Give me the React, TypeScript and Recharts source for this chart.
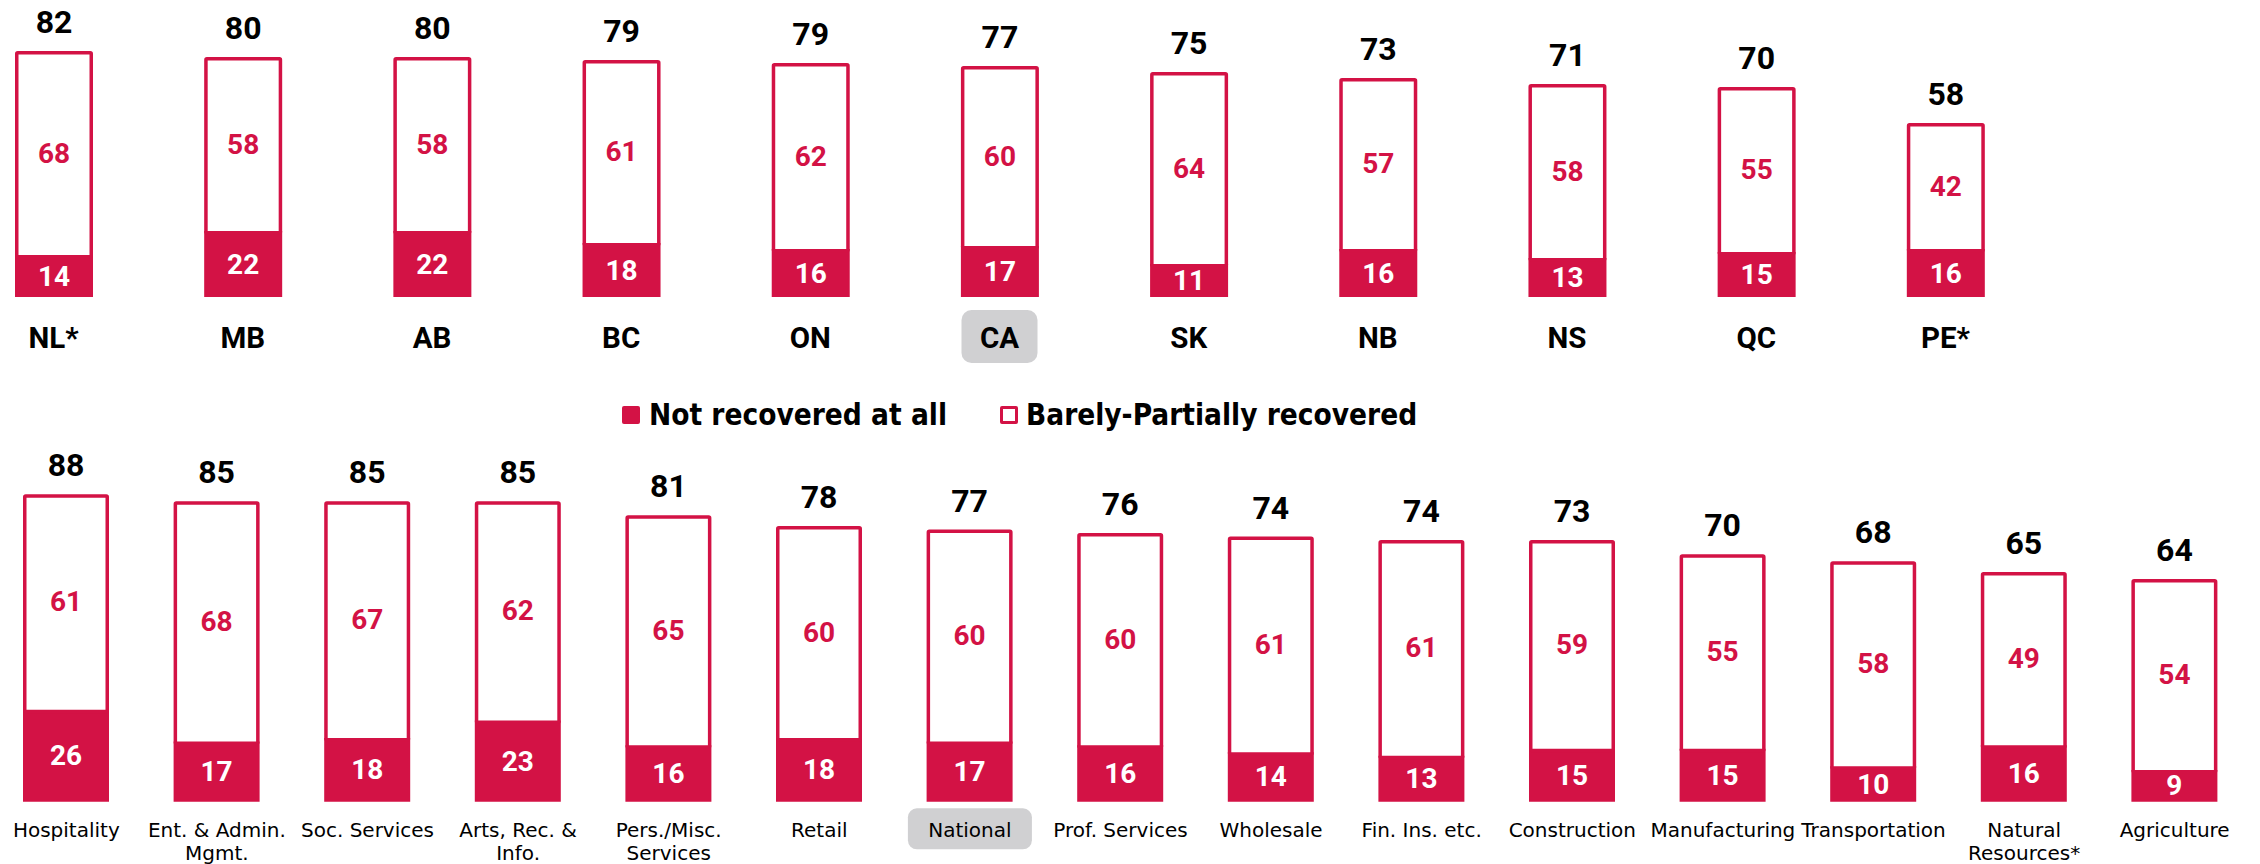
import React from 'react';
import { BarChart, Bar, XAxis, YAxis, LabelList } from 'recharts';

const RED = '#D31245';
const HILITE = '#D0D0D2';
const NUM_FONT = "Roboto, 'DejaVu Sans', sans-serif";
const TEXT_FONT = "'DejaVu Sans', sans-serif";
const LEGEND_FONT = "'DejaVu Sans Condensed', 'DejaVu Sans', sans-serif";

const provinces = ['NL*', 'MB', 'AB', 'BC', 'ON', 'CA', 'SK', 'NB', 'NS', 'QC', 'PE*'];
const provNotRecovered = [14, 22, 22, 18, 16, 17, 11, 16, 13, 15, 16];
const provBarely = [68, 58, 58, 61, 62, 60, 64, 57, 58, 55, 42];
const provTotal = [82, 80, 80, 79, 79, 77, 75, 73, 71, 70, 58];

const sectors = [
  'Hospitality',
  'Ent. & Admin.\nMgmt.',
  'Soc. Services',
  'Arts, Rec. &\nInfo.',
  'Pers./Misc.\nServices',
  'Retail',
  'National',
  'Prof. Services',
  'Wholesale',
  'Fin. Ins. etc.',
  'Construction',
  'Manufacturing',
  'Transportation',
  'Natural\nResources*',
  'Agriculture',
];
const secNotRecovered = [26, 17, 18, 23, 16, 18, 17, 16, 14, 13, 15, 15, 10, 16, 9];
const secBarely = [61, 68, 67, 62, 65, 60, 60, 60, 61, 61, 59, 55, 58, 49, 54];
const secTotal = [88, 85, 85, 85, 81, 78, 77, 76, 74, 74, 73, 70, 68, 65, 64];

const legendLabels = ['Not recovered at all', 'Barely-Partially recovered'];
const highlighted = ['CA', 'National'];

const provData = provinces.map((name, i) => ({
  name,
  notRec: provNotRecovered[i],
  barely: provBarely[i],
  total: provTotal[i],
}));
const secData = sectors.map((name, i) => ({
  name,
  notRec: secNotRecovered[i],
  barely: secBarely[i],
  total: secTotal[i],
}));

const SW = 3.5;
const OutlineBar = (props: any) => {
  const { x, y, width, height } = props;
  if (width == null || height == null) return null;
  return (
    <rect
      x={x + SW / 2}
      y={y + SW / 2}
      width={width - SW}
      height={height}
      fill="#fff"
      stroke={RED}
      strokeWidth={SW}
      rx={1}
    />
  );
};

const totalLabel = (offset: number) => (p: any) => {
  const { x, y, width, value } = p;
  return (
    <text
      x={x + width / 2}
      y={y - offset}
      textAnchor="middle"
      dominantBaseline="central"
      fontFamily={NUM_FONT}
      fontWeight="bold"
      fontSize={32}
      fill="#000"
    >
      {value}
    </text>
  );
};

const innerLabel = (color: string) => (p: any) => {
  const { x, y, width, height, value } = p;
  return (
    <text
      x={x + width / 2}
      y={y + height / 2}
      textAnchor="middle"
      dominantBaseline="central"
      fontFamily={NUM_FONT}
      fontWeight="bold"
      fontSize={28}
      fill={color}
    >
      {value}
    </text>
  );
};

const TopTick = (props: any) => {
  const { x, y, payload } = props;
  const v = String(payload.value);
  const hi = highlighted.includes(v);
  return (
    <g>
      {hi && <rect x={x - 38} y={y + 13} width={76} height={53} rx={10} fill={HILITE} />}
      <text
        x={x}
        y={y + 40.5}
        textAnchor="middle"
        dominantBaseline="central"
        fontFamily={NUM_FONT}
        fontWeight="bold"
        fontSize={29.5}
        fill="#000"
      >
        {v}
      </text>
    </g>
  );
};

const BottomTick = (props: any) => {
  const { x, y, payload } = props;
  const v = String(payload.value);
  const lines = v.split('\n');
  const hi = highlighted.includes(v);
  return (
    <g>
      {hi && <rect x={x - 62} y={y + 6.6} width={124} height={41} rx={9} fill={HILITE} />}
      {lines.map((ln, i) => (
        <text
          key={i}
          x={x}
          y={y + 28 + i * 23}
          textAnchor="middle"
          dominantBaseline="central"
          fontFamily={TEXT_FONT}
          fontSize={20}
          fill="#000"
        >
          {ln}
        </text>
      ))}
    </g>
  );
};

const legendText: React.CSSProperties = {
  position: 'absolute',
  top: 0,
  height: 40,
  lineHeight: '40px',
  fontFamily: LEGEND_FONT,
  fontWeight: 'bold',
  fontSize: 29.5,
  color: '#000',
  whiteSpace: 'nowrap',
};

export default function App() {
  return (
    <div style={{ position: 'absolute', left: 0, top: 0, width: 2260, height: 864, background: '#fff', overflow: 'hidden' }}>
      <div style={{ position: 'absolute', left: -40.6, top: 0 }}>
        <BarChart
          width={2081}
          height={367}
          data={provData}
          margin={{ top: 27, right: 0, bottom: 0, left: 0 }}
          barSize={78}
        >
          <XAxis
            dataKey="name"
            height={70}
            axisLine={false}
            tickLine={false}
            tickSize={0}
            tickMargin={0}
            interval={0}
            tick={<TopTick />}
          />
          <YAxis hide domain={[0, 90]} />
          <Bar dataKey="notRec" stackId="a" fill={RED} isAnimationActive={false}>
            <LabelList dataKey="notRec" content={innerLabel('#fff')} />
          </Bar>
          <Bar dataKey="barely" stackId="a" shape={<OutlineBar />} isAnimationActive={false}>
            <LabelList dataKey="barely" content={innerLabel(RED)} />
            <LabelList dataKey="total" content={totalLabel(29)} />
          </Bar>
        </BarChart>
      </div>

      <div style={{ position: 'absolute', left: 0, top: 395, width: 2260, height: 40 }}>
        <span
          style={{
            position: 'absolute',
            left: 622,
            top: 11,
            width: 18,
            height: 18,
            background: RED,
            borderRadius: 2,
          }}
        />
        <span style={{ ...legendText, left: 649 }}>{legendLabels[0]}</span>
        <span
          style={{
            position: 'absolute',
            left: 1000,
            top: 11,
            width: 18,
            height: 18,
            boxSizing: 'border-box',
            border: `3.5px solid ${RED}`,
            borderRadius: 2,
          }}
        />
        <span style={{ ...legendText, left: 1026 }}>{legendLabels[1]}</span>
      </div>

      <div style={{ position: 'absolute', left: -9.5, top: 430 }}>
        <BarChart
          width={2259}
          height={434}
          data={secData}
          margin={{ top: 18.2, right: 0, bottom: 0, left: 0 }}
          barSize={86}
        >
          <XAxis
            dataKey="name"
            height={62.3}
            axisLine={false}
            tickLine={false}
            tickSize={0}
            tickMargin={0}
            interval={0}
            tick={<BottomTick />}
          />
          <YAxis hide domain={[0, 100]} />
          <Bar dataKey="notRec" stackId="a" fill={RED} isAnimationActive={false}>
            <LabelList dataKey="notRec" content={innerLabel('#fff')} />
          </Bar>
          <Bar dataKey="barely" stackId="a" shape={<OutlineBar />} isAnimationActive={false}>
            <LabelList dataKey="barely" content={innerLabel(RED)} />
            <LabelList dataKey="total" content={totalLabel(29)} />
          </Bar>
        </BarChart>
      </div>
    </div>
  );
}
